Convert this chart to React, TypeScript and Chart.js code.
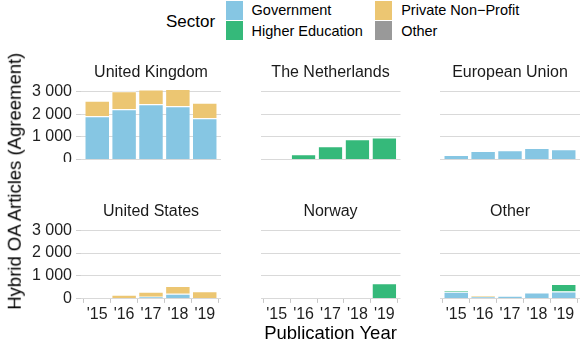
import React, { useEffect, useRef } from 'react';
import { Chart, registerables } from 'chart.js';

Chart.register(...registerables);

const FONT = "'Liberation Sans', Arial, Helvetica, sans-serif";

// ---------- data ----------
const years = [2015, 2016, 2017, 2018, 2019];
const xTickLabels = ["'15", "'16", "'17", "'18", "'19"];
const yTickValues = [0, 1000, 2000, 3000];
const yTickLabels = ['0', '1 000', '2 000', '3 000'];

const sectors = ['Government', 'Higher Education', 'Private Non\u2212Profit', 'Other'];
const sectorColors = ['#86C6E3', '#35B97A', '#ECC672', '#999999'];

const panelTitles = ['United Kingdom', 'The Netherlands', 'European Union', 'United States', 'Norway', 'Other'];

const none = [null, null, null, null, null];

const ukGovernment = [1910, 2220, 2440, 2350, 1830];
const ukHigherEducation = none;
const ukPrivate = [690, 800, 650, 760, 680];
const ukOther = none;

const nlGovernment = none;
const nlHigherEducation = [null, 236, 590, 900, 978];
const nlPrivate = none;
const nlOther = none;

const euGovernment = [204, 382, 413, 516, 458];
const euHigherEducation = none;
const euPrivate = none;
const euOther = none;

const usGovernment = [null, null, 70, 200, null];
const usHigherEducation = none;
const usPrivate = [null, 158, 220, 350, 320];
const usOther = none;

const noGovernment = none;
const noHigherEducation = [null, null, null, null, 670];
const noPrivate = none;
const noOther = none;

const otGovernment = [290, 75, 115, 265, 305];
const otHigherEducation = [70, null, null, null, 335];
const otPrivate = [null, 65, null, null, null];
const otOther = none;

const panelValues: (number | null)[][][] = [
  [ukGovernment, ukHigherEducation, ukPrivate, ukOther],
  [nlGovernment, nlHigherEducation, nlPrivate, nlOther],
  [euGovernment, euHigherEducation, euPrivate, euOther],
  [usGovernment, usHigherEducation, usPrivate, usOther],
  [noGovernment, noHigherEducation, noPrivate, noOther],
  [otGovernment, otHigherEducation, otPrivate, otOther],
];

// shared y scale (ggplot-like 5% expansion on top)
const maxTotal = Math.max(
  ...panelValues.flatMap((pv) => years.map((_, i) => pv.reduce((s, arr) => s + (arr[i] ?? 0), 0)))
);
const yMax = maxTotal * 1.05;

// ---------- layout ----------
const canvasLeft = [20, 260, 439];
const canvasWidth = [202, 142, 142];
const padLeft = [0, 0.5, 1];
const padRight = [1, 1.5, 1];
const yAxisWidth = [61, 0, 0];
const canvasTop = [58, 197];
const canvasHeight = [104, 130];
const titlePadTop = [7, 6.8];
const padBottom = [2.4, 6.6];
const xAxisHeight = [0, 22];

function Panel({ index }: { index: number }) {
  const ref = useRef<HTMLCanvasElement | null>(null);
  const row = Math.floor(index / 3);
  const col = index % 3;

  useEffect(() => {
    if (!ref.current) return;
    const datasets = sectors.map((s, si) => ({
      label: s,
      data: years.map((yr, i) => ({ x: yr, y: panelValues[index][si][i] })),
      backgroundColor: sectorColors[si],
      borderColor: '#ffffff',
      borderWidth: { top: 1, left: 0, right: 0, bottom: 0 },
      barPercentage: 0.88,
      categoryPercentage: 1,
    }));
    const chart = new Chart(ref.current, {
      type: 'bar',
      data: { datasets: datasets as any },
      options: {
        animation: false,
        responsive: false,
        devicePixelRatio: 1,
        events: [],
        layout: {
          padding: { left: padLeft[col], right: padRight[col], top: 0, bottom: padBottom[row] },
        },
        plugins: {
          legend: { display: false },
          tooltip: { enabled: false },
          title: {
            display: true,
            text: panelTitles[index],
            fullSize: false,
            color: '#1a1a1a',
            font: { family: FONT, size: 16, weight: 'normal', lineHeight: 1 },
            padding: { top: titlePadTop[row], bottom: 4.6 },
          },
        },
        scales: {
          x: {
            type: 'linear',
            min: years[0] - 0.6,
            max: years[years.length - 1] + 0.6,
            stacked: true,
            offset: false,
            display: row === 1,
            afterBuildTicks: (s: any) => {
              s.ticks = years.map((v) => ({ value: v }));
            },
            afterFit: (s: any) => {
              s.height = xAxisHeight[row];
              s.paddingLeft = 0;
              s.paddingRight = 0;
              s.paddingTop = 0;
              s.paddingBottom = 0;
            },
            grid: {
              drawOnChartArea: false,
              drawTicks: true,
              tickLength: 4.5,
              color: '#c8c8c8',
              tickColor: '#c8c8c8',
              lineWidth: 1,
            },
            border: { display: false },
            ticks: {
              font: { family: FONT, size: 16 },
              color: '#1f1f1f',
              padding: 2.5,
              maxRotation: 0,
              autoSkip: false,
              callback: (v: any) => xTickLabels[years.indexOf(Number(v))],
            },
          },
          y: {
            type: 'linear',
            min: 0,
            max: yMax,
            stacked: true,
            afterBuildTicks: (s: any) => {
              s.ticks = yTickValues.map((v) => ({ value: v }));
            },
            afterFit: (s: any) => {
              s.width = yAxisWidth[col];
              s.paddingLeft = 0;
              s.paddingRight = 0;
              s.paddingTop = 0;
              s.paddingBottom = 0;
            },
            grid: {
              color: '#d9d9d9',
              lineWidth: 1,
              drawTicks: col === 0,
              tickLength: 5,
              tickColor: '#d0d0d0',
            },
            border: { display: false },
            ticks: {
              display: col === 0,
              autoSkip: false,
              font: { family: FONT, size: 16 },
              color: '#1f1f1f',
              padding: 4,
              callback: (v: any) => yTickLabels[yTickValues.indexOf(Number(v))],
            },
          },
        },
      } as any,
    });
    return () => chart.destroy();
  }, [index]);

  return (
    <canvas
      ref={ref}
      width={canvasWidth[col]}
      height={canvasHeight[row]}
      style={{
        position: 'absolute',
        left: canvasLeft[col],
        top: canvasTop[row],
        width: canvasWidth[col],
        height: canvasHeight[row],
      }}
    />
  );
}

// legend layout
const keyX = [226, 375];
const labelX = [251.6, 401.2];
const keyTop = [1, 21.2];
const keyH = 19;
const labelCenter = [10.6, 30.8];

export default function App() {
  const textBase: React.CSSProperties = {
    position: 'absolute',
    fontFamily: FONT,
    color: '#000',
    whiteSpace: 'nowrap',
  };
  return (
    <div
      style={{
        position: 'absolute',
        left: 0,
        top: 0,
        width: 581,
        height: 343,
        overflow: 'hidden',
        background: '#fff',
      }}
    >
      {/* legend */}
      <div style={{ ...textBase, left: 166, top: 21 - 8.5, fontSize: 17, lineHeight: '17px' }}>Sector</div>
      {sectors.map((s, i) => {
        const c = Math.floor(i / 2);
        const r = i % 2;
        return (
          <React.Fragment key={s}>
            <div
              style={{
                position: 'absolute',
                left: keyX[c],
                top: keyTop[r],
                width: 17,
                height: keyH,
                background: sectorColors[i],
              }}
            />
            <div
              style={{
                ...textBase,
                left: labelX[c],
                top: labelCenter[r] - 7.25,
                fontSize: 14.5,
                lineHeight: '14.5px',
              }}
            >
              {s}
            </div>
          </React.Fragment>
        );
      })}

      {panelTitles.map((_, i) => (
        <Panel key={i} index={i} />
      ))}

      {/* axis titles */}
      <div
        style={{
          ...textBase,
          left: 15 - 150,
          top: 181 - 9.25,
          width: 300,
          textAlign: 'center',
          fontSize: 18.5,
          lineHeight: '18.5px',
          transform: 'rotate(-90deg)',
        }}
      >
        Hybrid OA Articles (Agreement)
      </div>
      <div
        style={{
          ...textBase,
          left: 330.5 - 150,
          top: 333 - 9.25,
          width: 300,
          textAlign: 'center',
          fontSize: 18.5,
          lineHeight: '18.5px',
        }}
      >
        Publication Year
      </div>
    </div>
  );
}
